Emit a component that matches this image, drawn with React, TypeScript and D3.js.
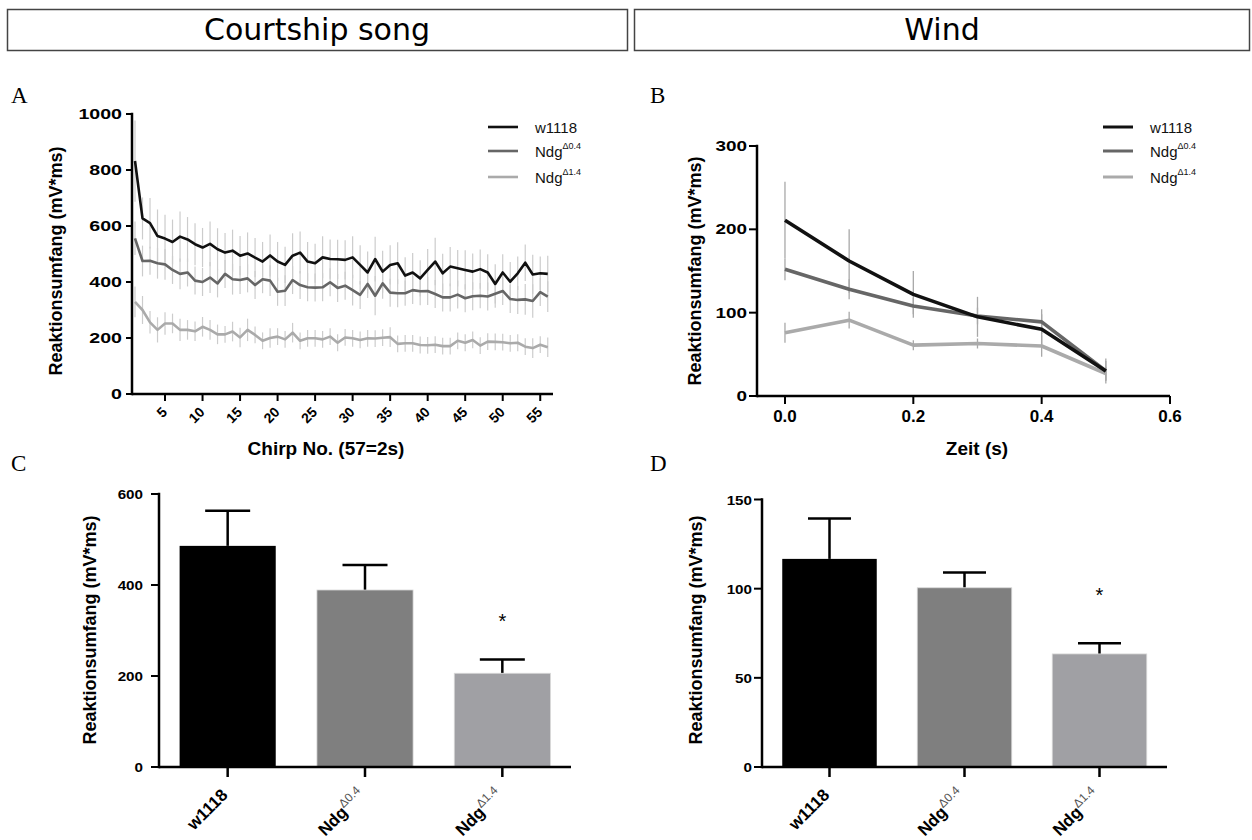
import React from 'react';
import * as d3 from 'd3';

// ---------------- DATA ----------------
const chirpNo = [1, 2, 3, 4, 5, 6, 7, 8, 9, 10, 11, 12, 13, 14, 15, 16, 17, 18, 19, 20, 21, 22, 23, 24, 25, 26, 27, 28, 29, 30, 31, 32, 33, 34, 35, 36, 37, 38, 39, 40, 41, 42, 43, 44, 45, 46, 47, 48, 49, 50, 51, 52, 53, 54, 55, 56];
const w1118Chirp = [832, 627, 610, 564, 555, 543, 562, 552, 535, 523, 536, 517, 505, 512, 494, 502, 487, 473, 495, 473, 461, 494, 505, 473, 467, 488, 482, 481, 479, 488, 461, 434, 482, 437, 461, 467, 423, 434, 413, 443, 473, 431, 455, 449, 443, 437, 446, 434, 393, 434, 401, 431, 469, 427, 431, 429];
const ndg04Chirp = [556, 475, 476, 467, 463, 443, 429, 434, 405, 400, 416, 395, 429, 410, 407, 413, 389, 410, 405, 365, 369, 407, 389, 381, 380, 381, 399, 379, 387, 371, 354, 393, 351, 395, 362, 360, 360, 371, 367, 368, 357, 345, 345, 355, 342, 349, 351, 348, 358, 368, 339, 336, 338, 332, 364, 348];
const ndg14Chirp = [329, 300, 256, 229, 252, 252, 229, 229, 224, 240, 229, 213, 213, 223, 202, 229, 211, 190, 200, 205, 195, 219, 190, 199, 199, 195, 205, 183, 202, 199, 193, 199, 198, 201, 203, 179, 181, 181, 175, 174, 176, 171, 171, 190, 183, 193, 173, 187, 186, 185, 181, 183, 169, 164, 176, 167];
const w1118ChirpErr = [145, 75, 90, 95, 85, 80, 90, 80, 75, 70, 80, 75, 70, 75, 70, 75, 70, 70, 75, 70, 65, 80, 75, 70, 70, 75, 70, 70, 70, 75, 70, 75, 80, 75, 70, 75, 65, 70, 65, 75, 85, 70, 70, 65, 70, 65, 70, 65, 70, 65, 70, 60, 65, 70, 60, 65];
const ndg04ChirpErr = [60, 55, 50, 55, 55, 50, 55, 50, 50, 50, 55, 50, 50, 55, 50, 50, 50, 50, 55, 50, 55, 50, 50, 50, 50, 50, 50, 50, 50, 55, 50, 50, 70, 55, 50, 50, 45, 50, 50, 50, 50, 50, 50, 50, 50, 50, 45, 50, 50, 50, 50, 50, 55, 60, 50, 55];
const ndg14ChirpErr = [55, 50, 40, 45, 40, 35, 40, 35, 35, 35, 35, 35, 30, 35, 35, 40, 30, 30, 35, 30, 30, 35, 30, 30, 30, 30, 30, 30, 30, 30, 30, 30, 30, 30, 35, 30, 30, 30, 30, 30, 30, 30, 30, 30, 30, 30, 30, 30, 30, 30, 30, 30, 30, 35, 30, 35];
const chirpXTicks = [5, 10, 15, 20, 25, 30, 35, 40, 45, 50, 55];
const chirpYTicks = [0, 200, 400, 600, 800, 1000];

const windTime = [0, 0.1, 0.2, 0.3, 0.4, 0.5];
const w1118Wind = [211, 162, 122, 95, 80, 30];
const ndg04Wind = [152, 128, 108, 96, 89, 30];
const ndg14Wind = [76, 91, 61, 63, 60, 27];
const w1118WindErr = [46, 38, 28, 24, 18, 15];
const ndg04WindErr = [13, 12, 10, 10, 15, 12];
const ndg14WindErr = [12, 10, 6, 6, 13, 8];
const windXTicks = [0, 0.2, 0.4, 0.6];
const windYTicks = [0, 100, 200, 300];

const genotypeKeys = ['w1118', 'Ndg04', 'Ndg14'];
const genotypeBase = ['w1118', 'Ndg', 'Ndg'];
const genotypeSup = ['', 'Δ0.4', 'Δ1.4'];
const songMean = [486, 389, 206];
const songSem = [77, 55, 30];
const windMean = [116.7, 100.5, 63.4];
const windSem = [22.6, 8.6, 6];
const significant = [false, false, true];
const songYTicks = [0, 200, 400, 600];
const windBarYTicks = [0, 50, 100, 150];

const lineColors = ['#111111', '#666666', '#aaaaaa'];
const barColors = ['#000000', '#7f7f7f', '#a0a0a4'];

const FONT = "'Liberation Sans', Arial, Helvetica, sans-serif";
const YLABEL = 'Reaktionsumfang (mV*ms)';

// ---------------- HELPERS ----------------
function YAxis({ scale, ticks, x, tickLen, labelRight, size, sx }: any) {
  const [r0, r1] = scale.range();
  return (
    <g>
      <line x1={x} x2={x} y1={r0} y2={r1} stroke="#000" strokeWidth={2.5} strokeLinecap="square" />
      {ticks.map((t: number) => (
        <g key={t}>
          <line x1={x - tickLen} x2={x} y1={scale(t)} y2={scale(t)} stroke="#000" strokeWidth={2} />
          <text transform={`translate(${labelRight},${scale(t) + 5}) scale(${sx},1)`} textAnchor="end"
            fontFamily={FONT} fontWeight="bold" fontSize={size} fill="#000">{t}</text>
        </g>
      ))}
    </g>
  );
}

function YTitle({ x, y }: any) {
  return (
    <text transform={`translate(${x},${y}) rotate(-90)`} textAnchor="middle" fontFamily={FONT}
      fontWeight="bold" fontSize={18} fill="#000">{YLABEL}</text>
  );
}

function Legend({ x, y, widths }: any) {
  const rows = [0, 1, 2];
  const dy = [0, 24, 50];
  return (
    <g>
      {rows.map((i) => (
        <g key={i}>
          <line x1={x} x2={x + 30} y1={y + dy[i]} y2={y + dy[i]} stroke={lineColors[i]} strokeWidth={widths} />
          <text x={x + 47} y={y + dy[i] + 6} fontFamily={FONT} fontSize={15} fill="#111">
            {genotypeBase[i]}
            {genotypeSup[i] && <tspan fontSize={9} dy={-8}>{genotypeSup[i]}</tspan>}
          </text>
        </g>
      ))}
    </g>
  );
}

function PanelLetter({ x, y, t }: any) {
  return <text x={x} y={y} fontFamily="'Liberation Serif', 'Times New Roman', serif" fontSize={23} fill="#000">{t}</text>;
}

// ---------------- PANELS ----------------
function PanelA() {
  const x = d3.scaleLinear().domain([0.6, 56.7]).range([132, 553]);
  const y = d3.scaleLinear().domain([0, 1000]).range([394, 114]);
  const series = [w1118Chirp, ndg04Chirp, ndg14Chirp];
  const errs = [w1118ChirpErr, ndg04ChirpErr, ndg14ChirpErr];
  const line = d3.line<number>().x((_, i) => x(chirpNo[i])).y((d) => y(d));
  return (
    <g>
      {series.map((s, si) => (
        <g key={si}>
          {s.map((v, i) => (
            <line key={i} x1={x(chirpNo[i])} x2={x(chirpNo[i])} y1={y(v - errs[si][i])} y2={y(v + errs[si][i])}
              stroke="#cccccc" strokeWidth={1.2} />
          ))}
        </g>
      ))}
      {[2, 1, 0].map((si) => (
        <path key={si} d={line(series[si]) || ''} fill="none" stroke={lineColors[si]} strokeWidth={2.6} strokeLinejoin="round" />
      ))}
      <YAxis scale={y} ticks={chirpYTicks} x={132} tickLen={6} labelRight={122} size={14} sx={1.4} />
      <line x1={132} x2={553} y1={394} y2={394} stroke="#000" strokeWidth={2.5} />
      {chirpXTicks.map((t) => (
        <g key={t}>
          <line x1={x(t)} x2={x(t)} y1={394} y2={401} stroke="#000" strokeWidth={2} />
          <text transform={`translate(${x(t) + 3},${413}) rotate(-45)`} textAnchor="end" fontFamily={FONT}
            fontWeight="bold" fontSize={14} fill="#000">{t}</text>
        </g>
      ))}
      <text x={326} y={455} textAnchor="middle" fontFamily={FONT} fontWeight="bold" fontSize={19}>Chirp No. (57=2s)</text>
      <YTitle x={62} y={261} />
      <Legend x={488} y={127} widths={2.6} />
    </g>
  );
}

function PanelB() {
  const x = d3.scaleLinear().domain([-0.0436, 0.6]).range([757, 1170]);
  const y = d3.scaleLinear().domain([0, 300]).range([396, 146]);
  const series = [w1118Wind, ndg04Wind, ndg14Wind];
  const errs = [w1118WindErr, ndg04WindErr, ndg14WindErr];
  const line = d3.line<number>().x((_, i) => x(windTime[i])).y((d) => y(d)).curve(d3.curveLinear);
  return (
    <g>
      {series.map((s, si) => (
        <g key={si}>
          {s.map((v, i) => (
            <line key={i} x1={x(windTime[i])} x2={x(windTime[i])} y1={y(v - errs[si][i])} y2={y(v + errs[si][i])}
              stroke="#a8a8a8" strokeWidth={1.3} />
          ))}
        </g>
      ))}
      {[2, 1, 0].map((si) => (
        <path key={si} d={line(series[si]) || ''} fill="none" stroke={lineColors[si]} strokeWidth={3.6} strokeLinejoin="round" />
      ))}
      <YAxis scale={y} ticks={windYTicks} x={757} tickLen={8} labelRight={747} size={14} sx={1.35} />
      <line x1={757} x2={1170} y1={396} y2={396} stroke="#000" strokeWidth={2.5} />
      {windXTicks.map((t) => (
        <g key={t}>
          <line x1={x(t)} x2={x(t)} y1={396} y2={404} stroke="#000" strokeWidth={2} />
          <text x={x(t)} y={422} textAnchor="middle" fontFamily={FONT} fontWeight="bold" fontSize={17}>{t.toFixed(1)}</text>
        </g>
      ))}
      <text x={977} y={455} textAnchor="middle" fontFamily={FONT} fontWeight="bold" fontSize={19}>Zeit (s)</text>
      <YTitle x={701} y={271} />
      <Legend x={1103} y={127} widths={3} />
    </g>
  );
}

function BarPanel({ left, right, yMax, yTop, yTicks, means, sems, capW, labelRight, titleX, starDy }: any) {
  const x = d3.scaleBand().domain(genotypeKeys).range([left, right]).paddingInner(0.3).paddingOuter(0.15);
  const y = d3.scaleLinear().domain([0, yMax]).range([767, yTop]);
  const bw = x.bandwidth();
  return (
    <g>
      {genotypeKeys.map((g, i) => {
        const cx = (x(g) as number) + bw / 2;
        return (
          <g key={g}>
            <line x1={cx} x2={cx} y1={y(means[i])} y2={y(means[i] + sems[i])} stroke="#000" strokeWidth={2.5} />
            <line x1={cx - capW / 2} x2={cx + capW / 2} y1={y(means[i] + sems[i])} y2={y(means[i] + sems[i])} stroke="#000" strokeWidth={2.5} />
            <rect x={x(g)} y={y(means[i])} width={bw} height={767 - y(means[i])} fill={barColors[i]}
              stroke={i === 0 ? 'none' : '#d8d8d8'} strokeWidth={0.8} />
            {significant[i] && (
              <text x={cx} y={y(means[i] + sems[i]) - starDy} textAnchor="middle" fontFamily={FONT} fontSize={20}>*</text>
            )}
            <line x1={cx} x2={cx} y1={767} y2={777} stroke="#000" strokeWidth={2.5} />
            <text transform={`translate(${cx + 1},${796}) rotate(-45)`} textAnchor="end" fontFamily={FONT}
              fontWeight="bold" fontSize={17} fill="#000">
              {genotypeBase[i]}
              {genotypeSup[i] && <tspan fontSize={12} fontWeight="normal" fill="#555" dy={-7}>{genotypeSup[i]}</tspan>}
            </text>
          </g>
        );
      })}
      <YAxis scale={y} ticks={yTicks} x={left} tickLen={8} labelRight={labelRight} size={13} sx={1.17} />
      <line x1={left} x2={right} y1={767} y2={767} stroke="#000" strokeWidth={2.5} />
      <YTitle x={titleX} y={630} />
    </g>
  );
}

export default function App() {
  return (
    <div style={{ position: 'absolute', left: 0, top: 0 }}>
      <svg width={1252} height={840} viewBox="0 0 1252 840" style={{ display: 'block', background: '#fff' }}>
        <rect x={0} y={0} width={1252} height={840} fill="#fff" />
        <rect x={7.5} y={9.5} width={620} height={41} fill="none" stroke="#444" strokeWidth={1.5} />
        <rect x={634.5} y={9.5} width={615} height={41} fill="none" stroke="#444" strokeWidth={1.5} />
        <text x={317} y={40} textAnchor="middle" fontFamily="'DejaVu Sans', sans-serif" fontSize={30}>Courtship song</text>
        <text x={942} y={40} textAnchor="middle" fontFamily="'DejaVu Sans', sans-serif" fontSize={30}>Wind</text>
        <PanelLetter x={11} y={103} t="A" />
        <PanelLetter x={650} y={103} t="B" />
        <PanelLetter x={11} y={471} t="C" />
        <PanelLetter x={650} y={471} t="D" />
        <PanelA />
        <PanelB />
        <BarPanel left={159} right={571} yMax={600} yTop={494} yTicks={songYTicks} means={songMean} sems={songSem}
          capW={45} labelRight={143} titleX={96} starDy={32} />
        <BarPanel left={762} right={1167} yMax={150} yTop={499.5} yTicks={windBarYTicks} means={windMean} sems={windSem}
          capW={43} labelRight={752} titleX={702} starDy={41} />
      </svg>
    </div>
  );
}
